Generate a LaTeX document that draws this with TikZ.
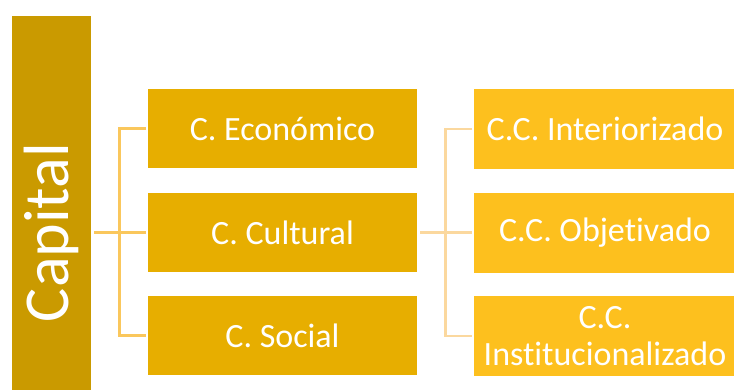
\documentclass[tikz,border=0pt]{standalone}
\usepackage{fontspec}
\setmainfont{Carlito}[Ligatures={NoCommon,NoDiscretionary,NoContextual}]
\definecolor{capcol}{HTML}{CA9A00}
\definecolor{midcol}{HTML}{E7AE00}
\definecolor{rightcol}{HTML}{FDC01E}
\definecolor{linea}{HTML}{FAC75C}
\definecolor{lineb}{HTML}{FBD89E}
\begin{document}
\begin{tikzpicture}[x=1pt,y=1pt,
  box/.style={rectangle, inner sep=0pt, outer sep=0pt, text=white,
    font=\fontsize{34}{37}\selectfont, align=center},
  capbox/.style={box, fill=capcol, font=\fontsize{64}{70}\selectfont},
  midbox/.style={box, fill=midcol, minimum width=269pt, minimum height=79pt},
  rightbox/.style={box, fill=rightcol, minimum width=262pt, minimum height=80pt},
  conna/.style={draw=linea, line width=2.2pt},
  connb/.style={draw=lineb, line width=2.2pt}]
\clip (0,0) rectangle (734,389);
\node[capbox, rotate=90, minimum width=432pt, minimum height=79pt] (cap) at (51.5,156.5) {Capital};
\node[midbox] (eco) at (282.5,260.5) {C. Económico};
\node[midbox] (cul) at (282.5,156.5) {C. Cultural};
\node[midbox] (soc) at (282.5,53.5) {C. Social};
\node[rightbox] (int) at (605,260) {C.C. Interiorizado};
\node[rightbox] (obj) at (605,156.5) {C.C. Objetivado};
\node[rightbox] (ins) at (605,53) {C.C.\\Institucionalizado};
\coordinate (ja) at (119.5,156.5);
\coordinate (jb) at (445.5,156.5);
\draw[conna] ([xshift=3pt]cap.south |- cul.west) -- ([xshift=-2pt]cul.west);
\draw[conna] ([xshift=-2pt]eco.west) -| (ja) |- ([xshift=-2pt]soc.west);
\draw[connb] ([xshift=3pt]cul.east) -- ([xshift=-2pt]obj.west);
\draw[connb] ([xshift=-2pt]int.west) -| (jb) |- ([xshift=-2pt]ins.west);
\end{tikzpicture}
\end{document}
